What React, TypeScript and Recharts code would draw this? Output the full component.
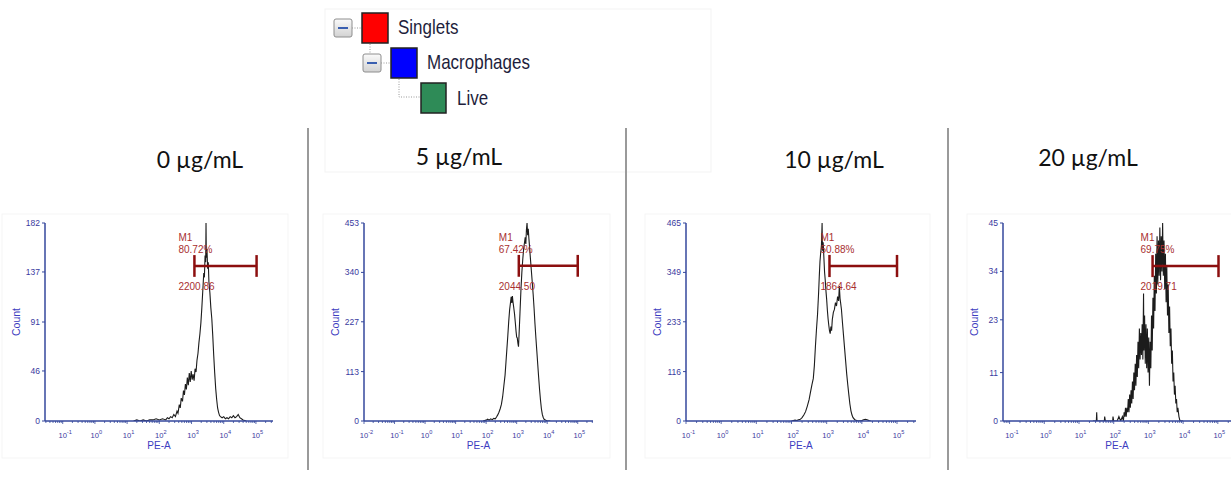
import React from 'react';
import { LineChart, Line, XAxis, YAxis, ReferenceLine } from 'recharts';

// ---------- data ----------
const titles = ['0 µg/mL', '5 µg/mL', '10 µg/mL', '20 µg/mL'];
const gateName = 'M1';
const gatePercents = ['80.72%', '67.42%', '50.88%', '69.75%'];
const gateMeans = ['2200.86', '2044.50', '1864.64', '2019.71'];
const gateStart = [3.09, 3.07, 3.08, 3.12];
const gateEnd = [5.02, 5.0, 5.0, 5.02];
const gateLevel = [142.5, 355, 364, 35.2];
const gateCap = [10, 25, 26, 2.5];

const yTicks0 = [0, 46, 91, 137, 182];
const yTicks5 = [0, 113, 227, 340, 453];
const yTicks10 = [0, 116, 233, 349, 465];
const yTicks20 = [0, 11, 23, 34, 45];

const decades0 = [-1, 0, 1, 2, 3, 4, 5];
const decades5 = [-2, -1, 0, 1, 2, 3, 4, 5];
const decades10 = [-1, 0, 1, 2, 3, 4, 5];
const decades20 = [-1, 0, 1, 2, 3, 4, 5];

const legendLabels = ['Singlets', 'Macrophages', 'Live'];
const legendColors = ['#ff0000', '#0000ff', '#2e8b57'];

// histogram: [log10(PE-A), count]
const hist0: number[][] = [
  [1.2, 0], [1.3, 1], [1.4, 0], [1.5, 1], [1.6, 0], [1.7, 1], [1.8, 1], [1.9, 2], [2.0, 1], [2.1, 2],
  [2.2, 1], [2.25, 3], [2.3, 2], [2.35, 4], [2.4, 3], [2.45, 6], [2.5, 4], [2.55, 9], [2.58, 7], [2.62, 15],
  [2.65, 12], [2.68, 21], [2.72, 18], [2.75, 28], [2.78, 24], [2.81, 34], [2.84, 29], [2.87, 40], [2.9, 33],
  [2.93, 44], [2.96, 36], [2.99, 46], [3.02, 38], [3.05, 43], [3.08, 37], [3.11, 48], [3.14, 45], [3.17, 56],
  [3.2, 62], [3.23, 72], [3.26, 80], [3.29, 90], [3.32, 104], [3.35, 120], [3.38, 136], [3.4, 132], [3.42, 152],
  [3.44, 146], [3.45, 182], [3.46, 150], [3.48, 158], [3.5, 140], [3.52, 146], [3.54, 128], [3.57, 118],
  [3.6, 104], [3.63, 94], [3.66, 78], [3.69, 60], [3.72, 44], [3.75, 30], [3.78, 20], [3.81, 12], [3.84, 8],
  [3.87, 5], [3.9, 4], [3.95, 3], [4.0, 4], [4.05, 2], [4.1, 3], [4.15, 2], [4.2, 4], [4.25, 3], [4.3, 5],
  [4.35, 3], [4.4, 4], [4.45, 6], [4.5, 3], [4.55, 2], [4.6, 1], [4.7, 0],
];

const hist5: number[][] = [
  [1.9, 0], [2.0, 2], [2.05, 4], [2.1, 2], [2.15, 5], [2.2, 3], [2.25, 6], [2.3, 5], [2.34, 9], [2.38, 14],
  [2.42, 20], [2.46, 28], [2.5, 38], [2.54, 55], [2.58, 80], [2.62, 105], [2.65, 135], [2.68, 165], [2.71, 195],
  [2.74, 228], [2.77, 255], [2.8, 272], [2.82, 284], [2.84, 270], [2.86, 286], [2.88, 272], [2.9, 262],
  [2.93, 245], [2.96, 222], [2.98, 205], [3.0, 192], [3.02, 190], [3.04, 178], [3.06, 170], [3.08, 200],
  [3.11, 250], [3.14, 300], [3.17, 340], [3.2, 370], [3.23, 395], [3.26, 410], [3.28, 420], [3.3, 405],
  [3.32, 438], [3.34, 453], [3.36, 425], [3.38, 440], [3.4, 418], [3.42, 400], [3.45, 372], [3.48, 345],
  [3.51, 318], [3.54, 290], [3.57, 258], [3.6, 222], [3.63, 190], [3.66, 160], [3.69, 130], [3.72, 100],
  [3.75, 72], [3.78, 48], [3.81, 28], [3.84, 15], [3.87, 8], [3.9, 4], [3.95, 2], [4.0, 0], [4.1, 0],
];

const hist10: number[][] = [
  [2.0, 0], [2.1, 2], [2.15, 1], [2.2, 3], [2.25, 4], [2.3, 8], [2.35, 14], [2.4, 22], [2.45, 35], [2.5, 50],
  [2.54, 68], [2.58, 85], [2.62, 100], [2.65, 130], [2.68, 175], [2.71, 215], [2.74, 250], [2.77, 300],
  [2.79, 340], [2.81, 375], [2.83, 395], [2.85, 410], [2.87, 465], [2.88, 400], [2.9, 420], [2.92, 385],
  [2.94, 350], [2.96, 330], [2.98, 305], [3.0, 285], [3.02, 260], [3.04, 240], [3.06, 225], [3.08, 212],
  [3.1, 205], [3.12, 222], [3.14, 212], [3.16, 238], [3.19, 255], [3.22, 262], [3.25, 278], [3.28, 270],
  [3.31, 292], [3.34, 282], [3.36, 317], [3.38, 288], [3.4, 275], [3.42, 262], [3.45, 230], [3.48, 200],
  [3.51, 170], [3.54, 140], [3.57, 110], [3.6, 85], [3.63, 62], [3.66, 40], [3.69, 24], [3.72, 14], [3.75, 8],
  [3.8, 3], [3.85, 1], [3.9, 0], [4.0, 1], [4.05, 3], [4.1, 4], [4.15, 3], [4.2, 1], [4.25, 0],
];

const hist20: number[][] = [
  [1.4, 0], [1.5, 0], [1.51, 2], [1.52, 0], [1.73, 0], [1.74, 1], [1.76, 0], [1.97, 0], [1.98, 1], [2.0, 0],
  [2.1, 0], [2.15, 1], [2.2, 0], [2.25, 1], [2.28, 0], [2.3, 2], [2.32, 1], [2.34, 3], [2.36, 1], [2.38, 3],
  [2.4, 2], [2.42, 5], [2.44, 2], [2.46, 6], [2.48, 3], [2.5, 7], [2.52, 4], [2.54, 9], [2.56, 5], [2.58, 11],
  [2.6, 7], [2.62, 13], [2.64, 8], [2.66, 15], [2.68, 10], [2.7, 18], [2.72, 12], [2.74, 21], [2.76, 14],
  [2.78, 20], [2.8, 15], [2.82, 22], [2.84, 14], [2.86, 29], [2.87, 16], [2.89, 24], [2.91, 13], [2.93, 22],
  [2.95, 12], [2.97, 21], [2.99, 11], [3.01, 19], [3.03, 8], [3.05, 18], [3.07, 12], [3.09, 24], [3.11, 16],
  [3.13, 28], [3.15, 21], [3.17, 33], [3.19, 25], [3.21, 38], [3.23, 29], [3.25, 42], [3.27, 31], [3.29, 41],
  [3.31, 33], [3.33, 44], [3.35, 32], [3.37, 42], [3.39, 34], [3.41, 45], [3.43, 33], [3.45, 41], [3.47, 30],
  [3.49, 38], [3.51, 27], [3.53, 35], [3.55, 24], [3.57, 31], [3.59, 20], [3.61, 26], [3.63, 17], [3.65, 21],
  [3.67, 13], [3.69, 16], [3.71, 9], [3.73, 11], [3.75, 6], [3.77, 8], [3.79, 4], [3.81, 5], [3.83, 2],
  [3.85, 3], [3.88, 1], [3.91, 0], [4.0, 0],
];

// ---------- layout ----------
const AXIS = '#34479c';
const TICK = '#3a3aa0';
const AXLABEL = '#3c3cc0';
const GATE = '#8c0f0f';
const GATETEXT = '#a83030';
const FONT = '"Liberation Sans", Arial, sans-serif';

const panels = [
  { plotLeft: 45, plotWidth: 228, domain: [-1.55, 5.53], textOff: 16, hist: hist0, yTicks: yTicks0, decades: decades0 },
  { plotLeft: 364, plotWidth: 229, domain: [-2.0, 5.5], textOff: 20, hist: hist5, yTicks: yTicks5, decades: decades5 },
  { plotLeft: 686, plotWidth: 230, domain: [-1.0, 5.54], textOff: 9, hist: hist10, yTicks: yTicks10, decades: decades10 },
  { plotLeft: 1003, plotWidth: 228, domain: [-1.19, 5.38], textOff: 12, hist: hist20, yTicks: yTicks20, decades: decades20 },
];
const titlePos = [200, 459, 834, 1088];
const titleY = [168, 165, 168, 166];
const CHART_TOP = 200;
const M_TOP = 23;
const PLOT_H = 198;
const X_H = 39;
const Y_W = 45;

function buildTicks(decades: number[], domain: number[]) {
  const out: number[] = [];
  const lo = Math.floor(domain[0]);
  const hi = Math.ceil(domain[1]);
  for (let n = lo; n <= hi; n++) {
    for (let k = 1; k <= 9; k++) {
      const v = k === 1 ? n : n + Math.log10(k);
      if (v >= domain[0] - 1e-9 && v <= domain[1] + 1e-9) out.push(v);
    }
  }
  return out;
}

function makeXTick(decades: number[]) {
  return (props: any) => {
    const { x, y, payload } = props;
    const v = payload.value;
    const r = Math.round(v);
    const major = Math.abs(v - r) < 1e-6 && decades.includes(r);
    return (
      <g>
        <line x1={x} x2={x} y1={y} y2={y + (major ? 3 : 2)} stroke={AXIS} strokeWidth={0.8} />
        {major && (
          <text x={x - 4.3} y={y + 17} fontSize={7.6} fill={TICK} fontFamily={FONT}>
            10
            <tspan dy={-4} fontSize={5.6}>{String(r)}</tspan>
          </text>
        )}
      </g>
    );
  };
}

function Panel({ i }: { i: number }) {
  const p = panels[i];
  const W = p.plotWidth;
  const chartW = Y_W + W + 12;
  const data = p.hist.map((d) => ({ x: d[0], y: d[1] }));
  const ticks = buildTicks(p.decades, p.domain);
  const yMax = p.yTicks[p.yTicks.length - 1];
  const g = gateLevel[i];
  const c = gateCap[i];
  const gateLabel = (lp: any) => {
    const vb = lp && lp.viewBox ? lp.viewBox : { x: 0, y: 0 };
    const tx = vb.x - p.textOff;
    const ty = vb.y;
    return (
      <g fontFamily={FONT} fontSize={10} fill={GATETEXT}>
        <text x={tx} y={ty - 25}>{gateName}</text>
        <text x={tx} y={ty - 13}>{gatePercents[i]}</text>
        <text x={tx} y={ty + 24}>{gateMeans[i]}</text>
      </g>
    );
  };
  return (
    <div style={{ position: 'absolute', left: p.plotLeft - Y_W, top: CHART_TOP }}>
      <LineChart width={chartW} height={M_TOP + PLOT_H + X_H} data={data} margin={{ top: M_TOP, right: 12, bottom: 0, left: 0 }}>
        <XAxis
          type="number"
          dataKey="x"
          domain={p.domain}
          allowDataOverflow
          ticks={ticks}
          interval={0}
          tick={makeXTick(p.decades)}
          tickLine={false}
          tickSize={0}
          tickMargin={0}
          height={X_H}
          axisLine={{ stroke: AXIS, strokeWidth: 1.5 }}
          label={() => (
            <text x={Y_W + W / 2} y={M_TOP + PLOT_H + 28} textAnchor="middle" fontSize={10} fill={AXLABEL} fontFamily={FONT}>
              PE-A
            </text>
          )}
        />
        <YAxis
          type="number"
          domain={[0, yMax]}
          allowDataOverflow
          ticks={p.yTicks}
          interval={0}
          width={Y_W}
          tickSize={3}
          tickMargin={2}
          tick={{ fontSize: 8.5, fill: TICK, fontFamily: FONT }}
          tickLine={{ stroke: AXIS }}
          axisLine={{ stroke: AXIS, strokeWidth: 1.5 }}
          label={() => (
            <text
              x={Y_W - 29}
              y={M_TOP + PLOT_H / 2}
              transform={`rotate(-90 ${Y_W - 29} ${M_TOP + PLOT_H / 2})`}
              textAnchor="middle"
              dominantBaseline="central"
              fontSize={10.5}
              fill={AXLABEL}
              fontFamily={FONT}
            >
              Count
            </text>
          )}
        />
        <Line type="linear" dataKey="y" stroke="#1c1c1c" strokeWidth={1.1} dot={false} isAnimationActive={false} />
        <ReferenceLine
          segment={[{ x: gateStart[i], y: g }, { x: gateEnd[i], y: g }]}
          stroke={GATE}
          strokeWidth={2.5}
          ifOverflow="visible"
          label={gateLabel}
        />
        <ReferenceLine segment={[{ x: gateStart[i], y: g - c }, { x: gateStart[i], y: g + c }]} stroke={GATE} strokeWidth={2.5} ifOverflow="visible" />
        <ReferenceLine segment={[{ x: gateEnd[i], y: g - c }, { x: gateEnd[i], y: g + c }]} stroke={GATE} strokeWidth={2.5} ifOverflow="visible" />
      </LineChart>
    </div>
  );
}

function MinusBox({ x, y }: { x: number; y: number }) {
  return (
    <g>
      <rect x={x} y={y} width={18} height={18} rx={2} fill="url(#mbox)" stroke="#8e8e8e" strokeWidth={1} />
      <line x1={x + 4} x2={x + 14} y1={y + 9} y2={y + 9} stroke="#3a5fb0" strokeWidth={2} />
    </g>
  );
}

function Decor() {
  const legendText = { fontFamily: FONT, fontSize: 17, fill: '#1e1e3c' } as any;
  return (
    <svg width={1231} height={482} style={{ position: 'absolute', left: 0, top: 0 }}>
      <defs>
        <linearGradient id="mbox" x1="0" y1="0" x2="0" y2="1">
          <stop offset="0" stopColor="#fafafa" />
          <stop offset="1" stopColor="#d2d2d2" />
        </linearGradient>
      </defs>
      {/* faint screenshot frames */}
      <rect x={325} y={9} width={386} height={163} fill="none" stroke="#f3f3f3" />
      <rect x={2} y={214} width={286} height={244} fill="none" stroke="#f5f5f5" />
      <rect x={323} y={214} width={287} height={244} fill="none" stroke="#f5f5f5" />
      <rect x={645} y={214} width={285} height={244} fill="none" stroke="#f5f5f5" />
      <rect x={967} y={214} width={270} height={244} fill="none" stroke="#f5f5f5" />
      {/* dividers */}
      {[308, 626, 948].map((x) => (
        <line key={x} x1={x} x2={x} y1={128} y2={470} stroke="#9a9a9a" strokeWidth={2} />
      ))}
      {/* gating tree legend */}
      <MinusBox x={334} y={19} />
      <line x1={352} x2={362} y1={28} y2={28} stroke="#999" strokeDasharray="1 1.5" />
      <rect x={362} y={13} width={26} height={30} fill={legendColors[0]} stroke="#222" strokeWidth={1.5} />
      <text x={398} y={34} transform="translate(0 -6.8) scale(1 1.2)" {...legendText}>{legendLabels[0]}</text>
      <line x1={370} x2={370} y1={44} y2={53} stroke="#999" strokeDasharray="1 1.5" />
      <MinusBox x={363} y={54} />
      <line x1={381} x2={391} y1={63} y2={63} stroke="#999" strokeDasharray="1 1.5" />
      <rect x={391} y={48} width={26} height={30} fill={legendColors[1]} stroke="#222" strokeWidth={1.5} />
      <text x={427} y={69} transform="translate(0 -13.8) scale(1 1.2)" {...legendText}>{legendLabels[1]}</text>
      <polyline points="399,79 399,97 420,97" fill="none" stroke="#999" strokeDasharray="1 1.5" />
      <rect x={421} y={83} width={25} height={30} fill={legendColors[2]} stroke="#222" strokeWidth={1.5} />
      <text x={457} y={105} transform="translate(0 -21) scale(1 1.2)" {...legendText}>{legendLabels[2]}</text>
      {/* titles */}
      {titles.map((t, i) => (
        <text key={t} x={titlePos[i]} y={titleY[i]} textAnchor="middle" fontFamily="Lato, 'Open Sans', sans-serif" fontSize={23} fill="#111">
          {t}
        </text>
      ))}
    </svg>
  );
}

export default function App() {
  return (
    <div style={{ position: 'absolute', left: 0, top: 0, width: 1231, height: 482, overflow: 'hidden', background: '#fff' }}>
      <Decor />
      {panels.map((_, i) => (
        <Panel key={i} i={i} />
      ))}
    </div>
  );
}
